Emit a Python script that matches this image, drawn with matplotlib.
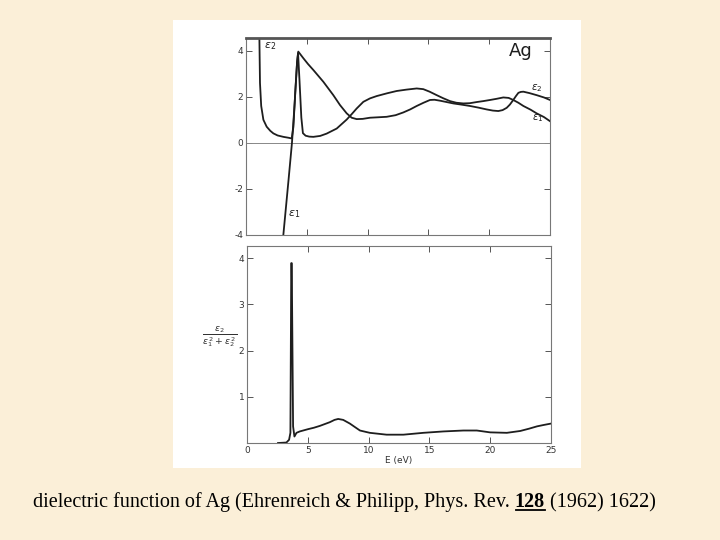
import matplotlib
matplotlib.use("Agg")
import matplotlib.pyplot as plt
from matplotlib.patches import Rectangle
from matplotlib.lines import Line2D

# ---------------- data ----------------
eps1_E = [3.07, 3.5, 3.78, 4.0, 4.2, 4.28, 4.4, 4.55, 4.68, 4.9, 5.2, 5.54, 6.1, 6.63, 7.46,
          8.28, 8.7, 9.1, 9.65, 10.2, 10.75, 11.6, 12.39, 13.2, 14.04, 14.58, 15.1, 15.68,
          16.2, 16.78, 17.3, 17.87, 18.4, 18.97, 19.5, 20.07, 20.6, 21.16, 21.6, 21.98,
          22.4, 22.81, 23.4, 23.9, 24.5, 25.0]
eps1 = [-4.0, -1.6, 0.0, 1.7, 3.5, 3.9, 2.7, 1.1, 0.42, 0.31, 0.27, 0.26, 0.30, 0.40, 0.62,
        1.01, 1.25, 1.49, 1.78, 1.93, 2.03, 2.15, 2.25, 2.31, 2.36, 2.33, 2.22, 2.07,
        1.94, 1.81, 1.74, 1.71, 1.72, 1.77, 1.81, 1.86, 1.91, 1.97, 1.95, 1.86,
        1.74, 1.60, 1.44, 1.28, 1.12, 0.94]

eps2_E = [1.08, 1.10, 1.15, 1.25, 1.43, 1.7, 2.0, 2.25, 2.6, 3.07, 3.5, 3.76, 3.9, 4.05, 4.2,
          4.30, 4.72, 5.1, 5.54, 6.36, 7.18, 7.73, 8.28, 8.69, 9.10, 9.6, 10.2, 10.9, 11.57,
          12.3, 12.94, 13.5, 14.04, 14.6, 15.13, 15.5, 15.95, 16.5, 17.05, 17.7, 18.42,
          19.1, 19.79, 20.3, 20.75, 21.1, 21.44, 21.7, 21.98, 22.2, 22.40, 22.6, 22.81,
          23.3, 23.90, 24.5, 25.0]
eps2 = [9.0, 4.6, 2.6, 1.6, 1.0, 0.7, 0.52, 0.41, 0.32, 0.26, 0.22, 0.19, 0.7, 2.2, 3.5,
        3.96, 3.67, 3.42, 3.16, 2.65, 2.07, 1.64, 1.28, 1.09, 1.03, 1.04, 1.09, 1.11, 1.13,
        1.20, 1.32, 1.45, 1.60, 1.74, 1.86, 1.87, 1.83, 1.77, 1.71, 1.66, 1.60,
        1.53, 1.45, 1.40, 1.38, 1.42, 1.52, 1.66, 1.86, 2.03, 2.17, 2.21, 2.22,
        2.16, 2.07, 1.97, 1.86]

loss_E = [2.55, 3.24, 3.46, 3.57, 3.64, 3.68, 3.79, 3.90, 4.07, 4.34, 5.03, 5.5, 5.99,
          6.4, 6.81, 7.2, 7.5, 7.91, 8.46, 8.9, 9.29, 10.1, 11.48, 12.86, 14.5, 16.15, 17.8,
          18.9, 20.0, 21.37, 22.47, 23.2, 23.85, 24.4, 25.0]
loss = [0.0, 0.01, 0.07, 0.22, 3.89, 3.89, 0.36, 0.14, 0.22, 0.25, 0.30, 0.33, 0.37,
        0.41, 0.45, 0.50, 0.52, 0.50, 0.42, 0.34, 0.27, 0.22, 0.18, 0.18, 0.22, 0.25, 0.27,
        0.27, 0.23, 0.22, 0.26, 0.31, 0.36, 0.39, 0.42]

top_yticks = [-4, -2, 0, 2, 4]
bot_yticks = [1, 2, 3, 4]
xticks = [0, 5, 10, 15, 20, 25]

caption_a = "dielectric function of Ag (Ehrenreich & Philipp, Phys. Rev. "
caption_b = "128"
caption_c = " (1962) 1622)"

# ---------------- figure ----------------
W, H = 720, 540
fig = plt.figure(figsize=(7.2, 5.4), dpi=100)
fig.patch.set_facecolor("#FBEFD8")
fig.add_artist(Rectangle((173 / W, 1 - 468 / H), (581 - 173) / W, (468 - 20) / H,
                         transform=fig.transFigure, facecolor="white",
                         edgecolor="none", zorder=0))

ink = "#1e1e1e"
frame = "#777777"

def style(ax):
    for s in ax.spines.values():
        s.set_color(frame)
        s.set_linewidth(0.8)
    ax.tick_params(direction="in", length=4, width=0.7, color="#555555",
                   labelsize=6.5, labelcolor="#333333", top=True, right=True, pad=2)
    ax.set_facecolor("white")
    ax.set_xlim(0, 25)

ax1 = fig.add_axes([246 / W, 1 - 235 / H, (550 - 246) / W, (235 - 38) / H])
style(ax1)
ax1.spines["top"].set_linewidth(2.0)
ax1.spines["top"].set_color("#555555")
ax1.set_ylim(-4, 4.55)
ax1.set_yticks(top_yticks)
ax1.set_yticklabels([str(v) for v in top_yticks])
ax1.set_xticks(xticks)
ax1.tick_params(axis="x", labelbottom=False)
ax1.axhline(0, color="#888888", lw=0.7)
ax1.plot(eps2_E, eps2, color=ink, lw=1.3)
ax1.plot(eps1_E, eps1, color=ink, lw=1.3)
ax1.text(1.45, 4.1, r"$\epsilon_2$", fontsize=8, color=ink)
ax1.text(3.45, -3.2, r"$\epsilon_1$", fontsize=8, color=ink)
ax1.text(21.6, 3.75, "Ag", fontsize=13, color=ink, family="DejaVu Sans")
ax1.text(23.4, 2.3, r"$\epsilon_2$", fontsize=7.5, color=ink)
ax1.text(23.5, 1.0, r"$\epsilon_1$", fontsize=7.5, color=ink)

ax2 = fig.add_axes([247 / W, 1 - 443 / H, (551 - 247) / W, (443 - 246) / H])
style(ax2)
ax2.set_ylim(0, 4.26)
ax2.set_yticks(bot_yticks)
ax2.set_yticklabels([str(v) for v in bot_yticks])
ax2.set_xticks(xticks)
ax2.set_xticklabels([str(v) for v in xticks])
ax2.plot(loss_E, loss, color=ink, lw=1.3)
ax2.set_xlabel("E (eV)", fontsize=6.5, color="#333333", labelpad=1)
fig.text(220 / W, 1 - 337 / H, r"$\frac{\epsilon_2}{\epsilon_1^{\,2}+\epsilon_2^{\,2}}$",
         fontsize=9.5, color="#333333", ha="center", va="center")

# ---------------- caption ----------------
cap_kw = dict(fontsize=14.5, family="Liberation Serif", color="black", va="baseline")
ya = 1 - 507 / H
t1 = fig.text(33 / W, ya, caption_a, **cap_kw)
fig.canvas.draw()
r = fig.canvas.get_renderer()
bb1 = t1.get_window_extent(r)
x2 = bb1.x1 / fig.bbox.width
t2 = fig.text(x2, ya, caption_b, fontweight="bold", **cap_kw)
bb2 = t2.get_window_extent(r)
x3 = bb2.x1 / fig.bbox.width
fig.add_artist(Line2D([x2 + 1.5 / W, x3], [ya - 3 / H, ya - 3 / H], transform=fig.transFigure,
                      color="black", lw=1.3))
t3 = fig.text(x3, ya, caption_c, **cap_kw)

fig.savefig("out.png", dpi=100, facecolor=fig.get_facecolor())
